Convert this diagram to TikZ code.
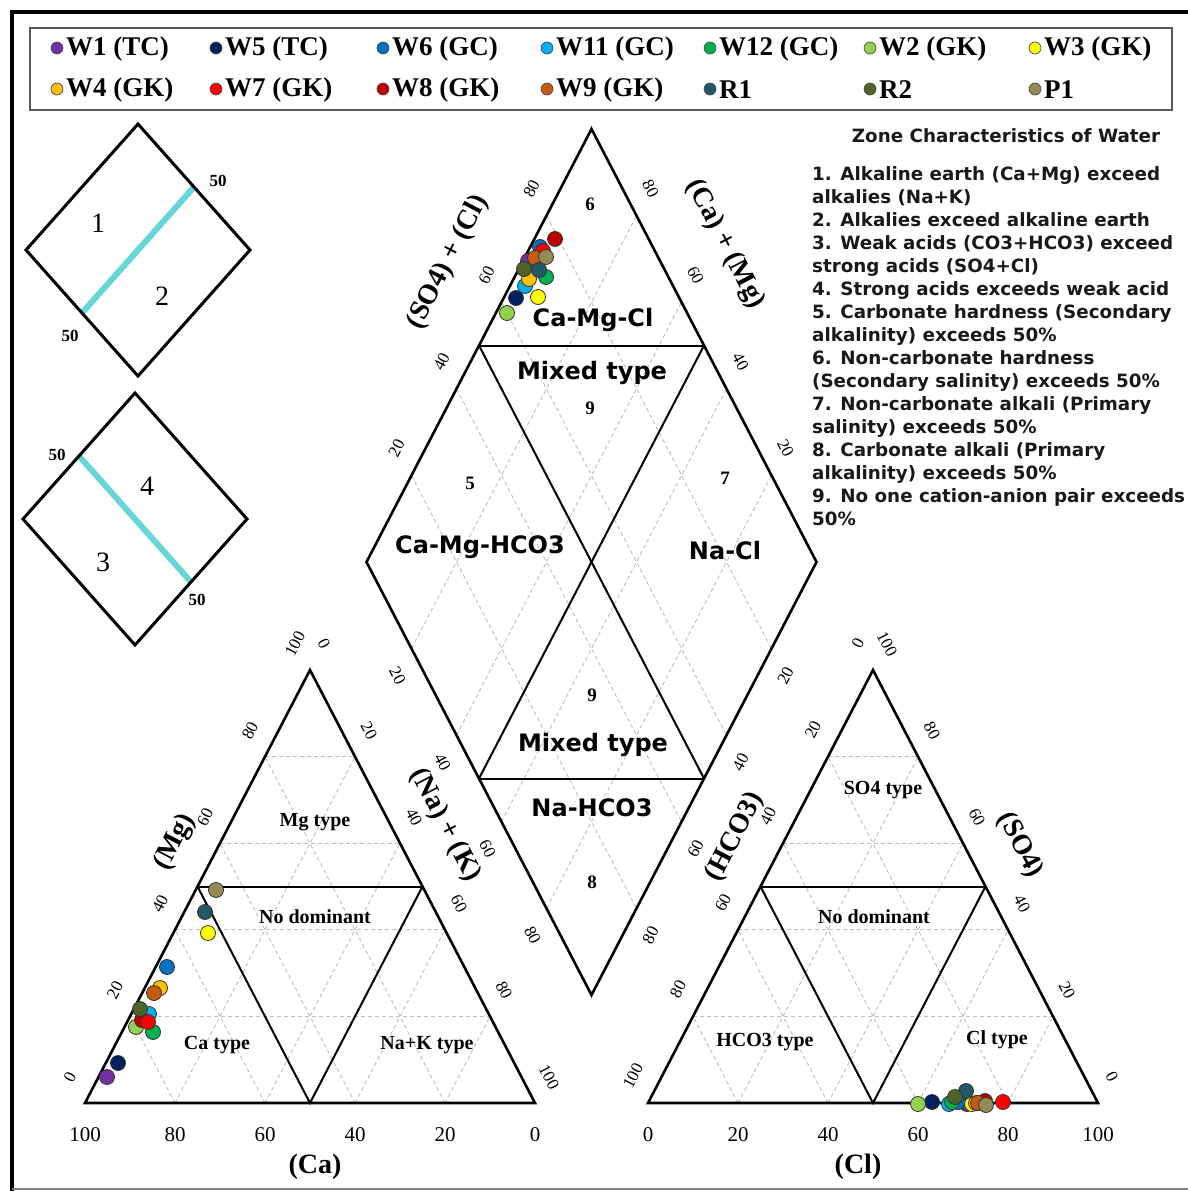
\documentclass[tikz,border=0pt]{standalone}
\usepackage{fontspec}
\setmainfont{Liberation Serif}
\newfontfamily\vfont{DejaVu Sans}
\usetikzlibrary{calc}
\definecolor{cWa}{HTML}{7030A0}
\definecolor{cWe}{HTML}{002060}
\definecolor{cWf}{HTML}{0070C0}
\definecolor{cWk}{HTML}{00B0F0}
\definecolor{cWl}{HTML}{00B050}
\definecolor{cWb}{HTML}{92D050}
\definecolor{cWc}{HTML}{FFFF00}
\definecolor{cWd}{HTML}{FFC000}
\definecolor{cWg}{HTML}{FF0000}
\definecolor{cWh}{HTML}{C00000}
\definecolor{cWi}{HTML}{C55A11}
\definecolor{cRa}{HTML}{215968}
\definecolor{cRb}{HTML}{4F6228}
\definecolor{cPa}{HTML}{948A54}
\definecolor{gridc}{HTML}{BDBDBD}
\definecolor{cyanl}{HTML}{66D6D6}
\newcommand{\fsz}[1]{\fontsize{#1}{#1}\selectfont}
\newcommand{\smpl}[3]{\filldraw[fill=#1,draw=black!80,line width=0.8pt] (#2,#3) circle[radius=7.5pt];}
\begin{document}
\begin{tikzpicture}[x=1pt,y=-1pt,
  edge/.style={line width=2.6pt,line join=miter},
  zone/.style={line width=2pt},
  gridl/.style={gridc,line width=0.9pt,dash pattern=on 4pt off 3pt},
  tick/.style={font=\fsz{17},inner sep=0},
  btick/.style={font=\fsz{21},inner sep=0},
  axt/.style={font=\bfseries\fsz{28},inner sep=0},
  zlab/.style={font=\vfont\bfseries\fsz{24},inner sep=0},
  tlab/.style={font=\bfseries\fsz{20},inner sep=0},
  znum/.style={font=\bfseries\fsz{19},inner sep=0},
  legt/.style={font=\bfseries\fsz{27},inner sep=0,anchor=west},
  ztext/.style={font=\vfont\bfseries\fsz{18.3},inner sep=0,anchor=base west,text=black!90}]
\useasboundingbox (0,0) rectangle (1188,1191);
\fill[white] (0,0) rectangle (1188,1191);
% frame
\draw[line width=4pt] (12,1191) -- (12,12) -- (1188,12);
\draw[gray,line width=1.5pt] (12,1189) -- (1188,1189);
% legend
\draw[black!65,line width=2pt] (30,28) rectangle (1172,110);
\foreach \x/\y/\c/\t in {57/48/cWa/W1 (TC),216/48/cWe/W5 (TC),383/48/cWf/W6 (GC),547/48/cWk/W11 (GC),710/48/cWl/W12 (GC),870/48/cWb/W2 (GK),1035/48/cWc/W3 (GK),
 57/89/cWd/W4 (GK),216/89/cWg/W7 (GK),383/89/cWh/W8 (GK),547/89/cWi/W9 (GK),710/89/cRa/R1,870/89/cRb/R2,1035/89/cPa/P1}{
  \filldraw[fill=\c,draw=black!70,line width=0.7pt] (\x,\y) circle[radius=6pt];
  \node[legt] (lg\c) at (\x+9,\y+1) {\t};
}
% key diamonds
\coordinate (kaT) at (138,124); \coordinate (kaR) at (250,250); \coordinate (kaB) at (138,376); \coordinate (kaL) at (26,250);
\coordinate (kbT) at (135,393); \coordinate (kbR) at (247,519); \coordinate (kbB) at (135,645); \coordinate (kbL) at (23,519);
\draw[cyanl,line width=6pt] ($(kaL)!.5!(kaB)$) -- ($(kaT)!.5!(kaR)$);
\draw[cyanl,line width=6pt] ($(kbL)!.5!(kbT)$) -- ($(kbB)!.5!(kbR)$);
\draw[line width=3pt,line join=miter] (kaT)--(kaR)--(kaB)--(kaL)--cycle;
\draw[line width=3pt,line join=miter] (kbT)--(kbR)--(kbB)--(kbL)--cycle;
\node[font=\bfseries\fsz{17},inner sep=0] (ka50a) at (218,181) {50};
\node[font=\bfseries\fsz{17},inner sep=0] (ka50b) at (70,336) {50};
\node[font=\fsz{28},inner sep=0] (kaone) at (98,223) {1};
\node[font=\fsz{28},inner sep=0] (katwo) at (162,296) {2};
\node[font=\bfseries\fsz{17},inner sep=0] (kb50a) at (57,455) {50};
\node[font=\bfseries\fsz{17},inner sep=0] (kb50b) at (197,600) {50};
\node[font=\fsz{28},inner sep=0] (kbfour) at (147,486) {4};
\node[font=\fsz{28},inner sep=0] (kbthree) at (103,562) {3};
% main geometry
\coordinate (A1) at (85,1103); \coordinate (B1) at (535,1103); \coordinate (C1) at (310,670);
\coordinate (A2) at (648,1103); \coordinate (B2) at (1098,1103); \coordinate (C2) at (873,670);
\coordinate (DL) at (366.5,562); \coordinate (DT) at (591.5,129); \coordinate (DR) at (816.5,562); \coordinate (DB) at (591.5,995);
% grids
\foreach \k in {0.2,0.4,0.6,0.8}{
  \pgfmathsetmacro\kk{1-\k}
  \draw[gridl] ($(A1)!\k!(C1)$) -- ($(B1)!\k!(C1)$);
  \draw[gridl] ($(A1)!\k!(B1)$) -- ($(B1)!\kk!(C1)$);
  \draw[gridl] ($(A1)!\k!(B1)$) -- ($(A1)!\k!(C1)$);
  \draw[gridl] ($(A2)!\k!(C2)$) -- ($(B2)!\k!(C2)$);
  \draw[gridl] ($(A2)!\k!(B2)$) -- ($(B2)!\kk!(C2)$);
  \draw[gridl] ($(A2)!\k!(B2)$) -- ($(A2)!\k!(C2)$);
  \draw[gridl] ($(DL)!\k!(DT)$) -- ($(DB)!\k!(DR)$);
  \draw[gridl] ($(DL)!\k!(DB)$) -- ($(DT)!\k!(DR)$);
}
% outlines
\draw[edge] (A1)--(B1)--(C1)--cycle;
\draw[edge] (A2)--(B2)--(C2)--cycle;
\draw[edge] (DL)--(DT)--(DR)--(DB)--cycle;
% zone lines
\draw[zone] ($(A1)!.5!(C1)$) -- ($(B1)!.5!(C1)$);
\draw[zone] ($(A1)!.5!(C1)$) -- ($(A1)!.5!(B1)$) -- ($(B1)!.5!(C1)$);
\draw[zone] ($(A2)!.5!(C2)$) -- ($(B2)!.5!(C2)$);
\draw[zone] ($(A2)!.5!(C2)$) -- ($(A2)!.5!(B2)$) -- ($(B2)!.5!(C2)$);
\draw[zone] ($(DL)!.5!(DT)$) -- ($(DT)!.5!(DR)$);
\draw[zone] ($(DL)!.5!(DB)$) -- ($(DB)!.5!(DR)$);
\draw[zone] ($(DL)!.5!(DT)$) -- ($(DB)!.5!(DR)$);
\draw[zone] ($(DT)!.5!(DR)$) -- ($(DL)!.5!(DB)$);
% tick labels
\foreach \i in {0,...,5}{
  \pgfmathtruncatemacro\v{20*\i}
  \pgfmathtruncatemacro\w{100-20*\i}
  \node[tick,rotate=62.5] (tla\i) at ($(A1)!{\i/5}!(C1)+(-15,-26)$) {\v};
  \node[tick,rotate=-62.5] (tlb\i) at ($(C1)!{\i/5}!(B1)+(14,-26)$) {\v};
  \node[tick,rotate=62.5] (tra\i) at ($(A2)!{\i/5}!(C2)+(-15,-27)$) {\w};
  \node[tick,rotate=-62.5] (trb\i) at ($(C2)!{\i/5}!(B2)+(14,-26)$) {\w};
  \node[btick] (bl\i) at ($(A1)!{\i/5}!(B1)+(0,32)$) {\w};
  \node[btick] (br\i) at ($(A2)!{\i/5}!(B2)+(0,32)$) {\v};
}
\foreach \i in {1,...,4}{
  \pgfmathtruncatemacro\v{20*\i}
  \pgfmathtruncatemacro\w{100-20*\i}
  \node[tick,rotate=62.5] (dul\i) at ($(DL)!{\i/5}!(DT)+(-15,-27)$) {\v};
  \node[tick,rotate=-62.5] (dur\i) at ($(DT)!{\i/5}!(DR)+(14,-27)$) {\w};
  \node[tick,rotate=-62.5] (dll\i) at ($(DL)!{\i/5}!(DB)+(-14,27)$) {\v};
  \node[tick,rotate=62.5] (dlr\i) at ($(DB)!{\i/5}!(DR)+(14,27)$) {\w};
}
% axis titles
\node[axt,rotate=62.5] (tso4cl) at (448,262) {(SO4) + (Cl)};
\node[axt,rotate=-62.5] (tcamg) at (725,244) {(Ca) + (Mg)};
\node[axt,rotate=62.5] (tmg) at (175,842) {(Mg)};
\node[axt,rotate=-62.5] (tnak) at (445,825) {(Na) + (K)};
\node[axt,rotate=62.5] (thco3) at (735,837) {(HCO3)};
\node[axt,rotate=-62.5] (tso4) at (1020,845) {(SO4)};
\node[axt] (tca) at (315,1167) {(Ca)};
\node[axt] (tcl) at (858,1167) {(Cl)};
% diamond zone labels
\node[znum] (z6) at (590,204) {6};
\node[zlab] (zcamgcl) at (593,320) {Ca-Mg-Cl};
\node[zlab] (zmixa) at (592,373) {Mixed type};
\node[znum] (z9a) at (590,408) {9};
\node[znum] (z5) at (470,483) {5};
\node[znum] (z7) at (725,478) {7};
\node[zlab] (zcamghco3) at (480,547) {Ca-Mg-HCO3};
\node[zlab] (znacl) at (725,551) {Na-Cl};
\node[znum] (z9b) at (592,695) {9};
\node[zlab] (zmixb) at (593,745) {Mixed type};
\node[zlab] (znahco3) at (592,808) {Na-HCO3};
\node[znum] (z8) at (592,882) {8};
% triangle labels
\node[tlab] (lmg) at (315,822) {Mg type};
\node[tlab] (lnod) at (315,917) {No dominant};
\node[tlab] (lca) at (217,1045) {Ca type};
\node[tlab] (lnak) at (427,1045) {Na+K type};
\node[tlab] (rso4) at (883,790) {SO4 type};
\node[tlab] (rnod) at (874,917) {No dominant};
\node[tlab] (rhco3) at (765,1042) {HCO3 type};
\node[tlab] (rcl) at (997,1040) {Cl type};
% zone characteristics
\node[font=\vfont\bfseries\fsz{18.3},inner sep=0,text=black!90] (zct) at (1006,136) {Zone Characteristics of Water};
\node[ztext] (zt1) at (812,180.5) {1. Alkaline earth (Ca+Mg) exceed};
\node[ztext] (zt2) at (812,203.5) {alkalies (Na+K)};
\node[ztext] (zt3) at (812,226.5) {2. Alkalies exceed alkaline earth};
\node[ztext] (zt4) at (812,249.5) {3. Weak acids (CO3+HCO3) exceed};
\node[ztext] (zt5) at (812,272.5) {strong acids (SO4+Cl)};
\node[ztext] (zt6) at (812,295.5) {4. Strong acids exceeds weak acid};
\node[ztext] (zt7) at (812,318.5) {5. Carbonate hardness (Secondary};
\node[ztext] (zt8) at (812,341.5) {alkalinity) exceeds 50\%};
\node[ztext] (zt9) at (812,364.5) {6. Non-carbonate hardness};
\node[ztext] (zt10) at (812,387.5) {(Secondary salinity) exceeds 50\%};
\node[ztext] (zt11) at (812,410.5) {7. Non-carbonate alkali (Primary};
\node[ztext] (zt12) at (812,433.5) {salinity) exceeds 50\%};
\node[ztext] (zt13) at (812,456.5) {8. Carbonate alkali (Primary};
\node[ztext] (zt14) at (812,479.5) {alkalinity) exceeds 50\%};
\node[ztext] (zt15) at (812,502.5) {9. No one cation-anion pair exceeds};
\node[ztext] (zt16) at (812,525.5) {50\%};
% samples: diamond
\smpl{cWa}{528}{261}\smpl{cWe}{516}{298}\smpl{cWf}{540}{247}\smpl{cWk}{525}{286}
\smpl{cWl}{546}{277}\smpl{cWb}{507}{313}\smpl{cWc}{538}{297}\smpl{cWd}{529}{279}
\smpl{cWg}{543}{251}\smpl{cWh}{555}{239}\smpl{cWi}{535}{258}\smpl{cRa}{539}{270}
\smpl{cRb}{524}{269}\smpl{cPa}{546}{257}
% samples: cation triangle
\smpl{cWa}{107}{1077}\smpl{cWe}{118}{1063}\smpl{cWf}{167}{967}\smpl{cWk}{149}{1014}
\smpl{cWl}{153}{1032}\smpl{cWb}{136}{1027}\smpl{cWc}{208}{933}\smpl{cWd}{160}{988}
\smpl{cWh}{142}{1020}\smpl{cWg}{148}{1022}\smpl{cWi}{154}{993}\smpl{cRa}{205}{912}
\smpl{cRb}{140}{1009}\smpl{cPa}{216}{890}
% samples: anion triangle
\smpl{cWa}{967}{1104}\smpl{cWe}{932}{1102}\smpl{cWf}{958}{1102}\smpl{cWk}{949}{1104}
\smpl{cWl}{952}{1102}\smpl{cWb}{918}{1104}\smpl{cWc}{972}{1104}\smpl{cWd}{976}{1103}
\smpl{cWh}{985}{1101}\smpl{cWi}{978}{1103}\smpl{cRa}{966}{1091}
\smpl{cRb}{955}{1097}\smpl{cPa}{986}{1105}\smpl{cWg}{1003}{1102}
\end{tikzpicture}
\end{document}
